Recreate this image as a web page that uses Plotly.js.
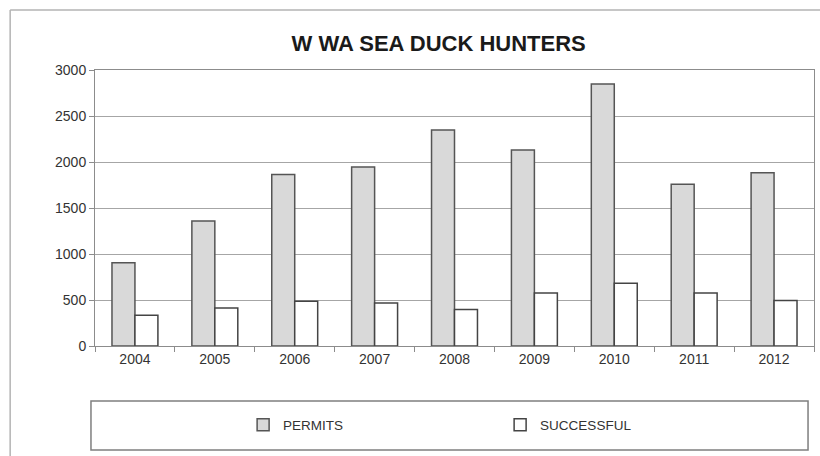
<!DOCTYPE html>
<html>
<head>
<meta charset="utf-8">
<script src="https://cdn.plot.ly/plotly-3.0.1.min.js"></script>
<style>html,body{margin:0;padding:0;background:#fff;overflow:hidden;}#chart{width:820px;height:456px;}</style>
</head>
<body>
<div id="chart"></div>
<script>
const years = ['2004','2005','2006','2007','2008','2009','2010','2011','2012'];
const permits = [905, 1360, 1865, 1945, 2348, 2130, 2848, 1757, 1884];
const successful = [334, 413, 486, 467, 398, 575, 683, 575, 495];
const yTicks = [0, 500, 1000, 1500, 2000, 2500, 3000];

const traces = [
  {
    type: 'bar', name: 'PERMITS', x: years, y: permits,
    marker: {color: '#d9d9d9', line: {color: '#555555', width: 1.5}},
    hoverinfo: 'x+y'
  },
  {
    type: 'bar', name: 'SUCCESSFUL', x: years, y: successful,
    marker: {color: '#ffffff', line: {color: '#444444', width: 1.5}},
    hoverinfo: 'x+y'
  }
];

const layout = {
  width: 820, height: 456,
  margin: {l: 95, r: 6, t: 70, b: 110},
  paper_bgcolor: '#ffffff', plot_bgcolor: '#ffffff',
  font: {family: 'Liberation Sans, Arial, sans-serif', color: '#333333'},
  title: {
    text: 'W WA SEA DUCK HUNTERS',
    font: {family: 'Liberation Sans, Arial, sans-serif', size: 22, color: '#1a1a1a', weight: 'bold'},
    x: 0.535, xanchor: 'center', y: 0.905, yanchor: 'middle'
  },
  barmode: 'group', bargap: 0.425, bargroupgap: 0,
  xaxis: {
    type: 'category', categoryarray: years,
    showline: true, linecolor: '#8c8c8c', linewidth: 1, mirror: true,
    ticks: 'outside', tickson: 'boundaries', ticklen: 5, tickcolor: '#8c8c8c',
    tickfont: {size: 14, color: '#333333'},
    showgrid: false, zeroline: false
  },
  yaxis: {
    range: [0, 3000], tickvals: yTicks, ticktext: yTicks.map(String),
    showline: true, linecolor: '#8c8c8c', linewidth: 1, mirror: true,
    ticks: 'outside', ticklen: 5, tickcolor: '#8c8c8c',
    tickfont: {size: 14, color: '#333333'},
    showgrid: true, gridcolor: '#a6a6a6', gridwidth: 1, zeroline: false
  },
  showlegend: true,
  legend: {
    orientation: 'h', x: 0.206, xanchor: 'left', y: -0.286, yanchor: 'middle',
    bgcolor: 'rgba(0,0,0,0)', borderwidth: 0,
    entrywidth: 212, entrywidthmode: 'pixels',
    font: {family: 'Liberation Sans, Arial, sans-serif', size: 13.5, color: '#333333'}
  },
  shapes: [
    {type: 'line', xref: 'paper', yref: 'paper', x0: -0.118, x1: 1.2, y0: 1.217, y1: 1.217,
     line: {color: '#b3b3b3', width: 1.5}, layer: 'below'},
    {type: 'line', xref: 'paper', yref: 'paper', x0: -0.118, x1: -0.118, y0: -0.45, y1: 1.217,
     line: {color: '#b3b3b3', width: 1.5}, layer: 'below'},
    {type: 'rect', xref: 'paper', yref: 'paper', x0: -0.0056, x1: 0.9917, y0: -0.3768, y1: -0.1993,
     line: {color: '#7f7f7f', width: 1.5}, fillcolor: 'rgba(0,0,0,0)', layer: 'below'}
  ]
};

Plotly.newPlot('chart', traces, layout, {displayModeBar: false, staticPlot: true});
</script>
</body>
</html>
